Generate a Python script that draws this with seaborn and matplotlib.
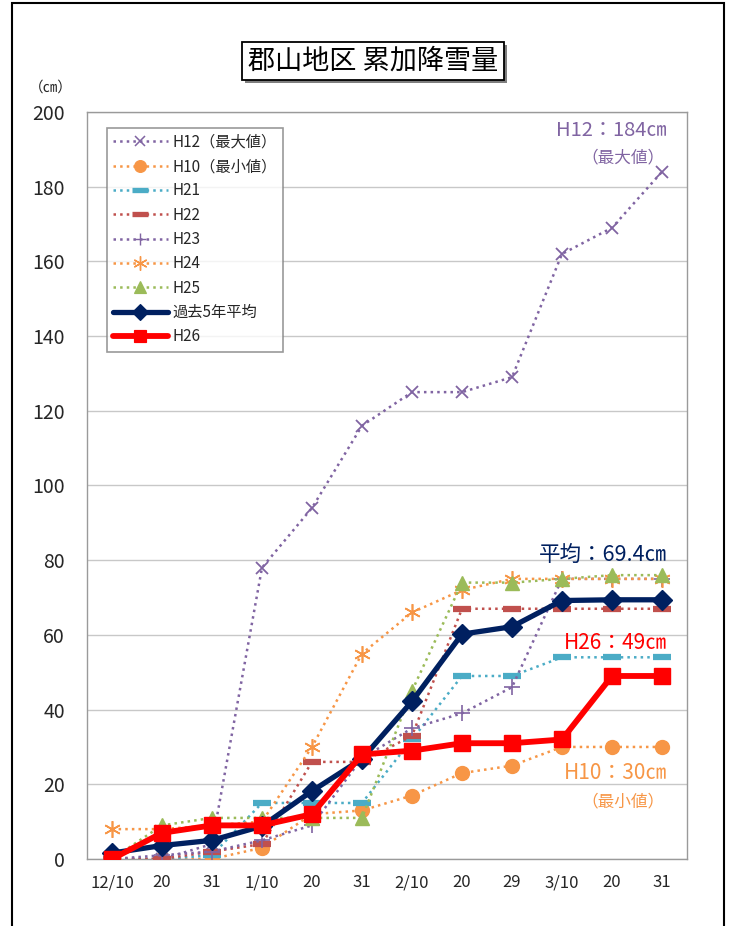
import numpy as np
import pandas as pd
import seaborn as sns
import matplotlib.pyplot as plt
from matplotlib.patches import Rectangle
from matplotlib.lines import Line2D

# Date labels along the x axis
dates = ["12/10", "20", "31", "1/10", "20", "31", "2/10", "20", "29", "3/10", "20", "31"]

# Cumulative snowfall (cm) per season
h12 = [0, 0, 4, 78, 94, 116, 125, 125, 129, 162, 169, 184]
h10 = [0, 0, 0, 3, 12, 13, 17, 23, 25, 30, 30, 30]
h21 = [0, 0, 1, 15, 15, 15, 32, 49, 49, 54, 54, 54]
h22 = [0, 0, 2, 4, 26, 26, 33, 67, 67, 67, 67, 67]
h23 = [0, 1, 2, 5, 9, 27, 35, 39, 46, 75, 75, 75]
h24 = [8, 8, 9, 10, 30, 55, 66, 72, 75, 75, 75, 75]
h25 = [0, 9, 11, 11, 11, 11, 45, 74, 74, 75, 76, 76]
avg5 = [1.6, 3.6, 5, 8.8, 18.2, 26.8, 42.2, 60.2, 62.2, 69.2, 69.4, 69.4]
h26 = [0, 7, 9, 9, 12, 28, 29, 31, 31, 32, 49, 49]

series = {
    "H12（最大値）": h12,
    "H10（最小値）": h10,
    "H21": h21,
    "H22": h22,
    "H23": h23,
    "H24": h24,
    "H25": h25,
    "過去5年平均": avg5,
    "H26": h26,
}

# style per series: color, marker, size, linestyle, linewidth, edge width
styles = {
    "H12（最大値）": ("#8064A2", "x", 9, ":", 1.8, 1.3),
    "H10（最小値）": ("#F79646", "o", 10, ":", 1.8, 1.0),
    "H21": ("#4BACC6", "_", 13, ":", 1.8, 4.5),
    "H22": ("#C0504D", "_", 13, ":", 1.8, 4.5),
    "H23": ("#8064A2", "+", 11, ":", 1.8, 1.2),
    "H24": ("#F79646", (6, 2, 0), 12, ":", 1.8, 1.2),
    "H25": ("#9BBB59", "^", 10, ":", 1.8, 1.0),
    "過去5年平均": ("#002060", "D", 10, "-", 3.8, 1.0),
    "H26": ("#FF0000", "s", 11, "-", 4.2, 1.0),
}

sns.set_style("white")
plt.rcParams['font.family'] = ['Noto Sans CJK JP', 'DejaVu Sans']

fig = plt.figure(figsize=(7.34, 9.26), dpi=100)
ax = fig.add_axes([87 / 734, 1 - 859 / 926, 600 / 734, 747 / 926])

x = np.arange(len(dates))
handles = []
for name, vals in series.items():
    c, m, ms, ls, lw, mew = styles[name]
    sns.lineplot(x=x, y=vals, ax=ax, color=c, marker=m, markersize=ms, linestyle=ls,
                 linewidth=lw, markeredgewidth=mew, markeredgecolor=c, markerfacecolor=c,
                 label=name, zorder=5 if ls == "-" else 3, legend=False)
    handles.append(Line2D([], [], color=c, marker=m, markersize=ms * 0.85, linestyle=ls,
                          linewidth=lw, markeredgewidth=mew * 0.85, markeredgecolor=c,
                          markerfacecolor=c, label=name))

ax.set_xlim(-0.5, len(dates) - 0.5)
ax.set_ylim(0, 200)
ax.set_yticks(np.arange(0, 201, 20))
ax.set_xticks(x)
ax.set_xticklabels(dates)
ax.set_xticks(x[:-1] + 0.5, minor=True)
ax.grid(axis="y", color="#C8C8C8", linewidth=1)
ax.set_axisbelow(True)
for s in ax.spines.values():
    s.set_color("#9A9A9A")
    s.set_linewidth(1)
ax.tick_params(axis="x", which="major", length=0, pad=11, labelsize=12)
ax.tick_params(axis="x", which="minor", direction="in", length=5, color="#777777")
ax.tick_params(axis="y", length=0, pad=16, labelsize=14)

leg = ax.legend(handles=handles, loc="upper left", bbox_to_anchor=(0.033, 0.979),
                borderaxespad=0, fontsize=11, frameon=True, fancybox=False,
                edgecolor="#808080", handlelength=3.6, labelspacing=0.48, borderpad=0.4,
                handletextpad=0.3)
leg.get_frame().set_linewidth(1.2)
leg.set_zorder(10)

# end-of-season annotations
ax.text(11.1, 195, "H12：184㎝", color="#8064A2", fontsize=14.5, ha="right", va="center")
ax.text(11.05, 187.8, "（最大値）", color="#8064A2", fontsize=12, ha="right", va="center")
ax.text(11.1, 81.3, "平均：69.4㎝", color="#002060", fontsize=15.5, ha="right", va="center")
ax.text(11.1, 57.8, "H26：49㎝", color="#FF0000", fontsize=15, ha="right", va="center")
ax.text(11.1, 23, "H10：30㎝", color="#F79646", fontsize=15, ha="right", va="center")
ax.text(11.05, 15.4, "（最小値）", color="#F79646", fontsize=12, ha="right", va="center")

fig.text(51 / 734, 1 - 88 / 926, "（㎝）", fontsize=10.5, ha="center", va="center")

# title box with a drop shadow
title = "郡山地区 累加降雪量"
t = fig.text(373 / 734, 1 - 61 / 926, title, fontsize=19.5, ha="center", va="center",
             color="black", zorder=3,
             bbox=dict(boxstyle="square,pad=0.22", fc="white", ec="black", lw=1.3))
fig.canvas.draw()
bb = t.get_bbox_patch().get_window_extent().transformed(fig.transFigure.inverted())
fig.patches.append(Rectangle((bb.x0 + 3 / 734, bb.y0 - 3 / 926), bb.width, bb.height,
                             transform=fig.transFigure, fc="#7F7F7F", ec="none", zorder=2))

# outer frame
fig.patches.append(Rectangle((12 / 734, -0.01), 712 / 734, 1.01 - 3 / 926,
                             transform=fig.transFigure, fill=False, ec="black", lw=1.5))

fig.savefig("out.png", dpi=100)
